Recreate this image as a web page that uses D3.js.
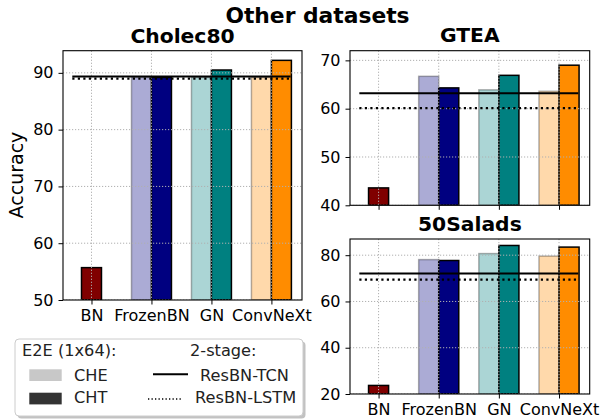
<!DOCTYPE html>
<html>
<head>
<meta charset="utf-8">
<script src="https://cdn.jsdelivr.net/npm/d3@7"></script>
<style>
  body { margin: 0; background: #fff; }
  svg { font-family: "DejaVu Sans", sans-serif; }
</style>
</head>
<body>
<div class="svg-container"></div>
<script>
// categories and colours
const categories = ["BN", "FrozenBN", "GN", "ConvNeXt"];
const colors = ["#800000", "#000080", "#008080", "#ff8c00"];

// Cholec80
const cholecCHE = [null, 89.2, 89.2, 89.2];
const cholecCHT = [55.7, 89.2, 90.5, 92.2];
const cholecTCN = 89.35;
const cholecLSTM = 89.0;

// GTEA
const gteaCHE = [null, 66.7, 63.9, 63.6];
const gteaCHT = [43.6, 64.3, 66.9, 69.0];
const gteaTCN = 63.2;
const gteaLSTM = 60.1;

// 50Salads
const saladsCHE = [null, 78.1, 80.7, 79.6];
const saladsCHT = [23.7, 77.7, 84.2, 83.5];
const saladsTCN = 72.1;
const saladsLSTM = 69.4;

const cholecTicks = [50, 60, 70, 80, 90];
const gteaTicks = [40, 50, 60, 70];
const saladsTicks = [20, 40, 60, 80];

const width = 601, height = 419;
const svg = d3.select(".svg-container").append("svg")
    .attr("width", width).attr("height", height);

const panels = [
  {title: "Cholec80", che: cholecCHE, cht: cholecCHT, tcn: cholecTCN, lstm: cholecLSTM,
   ticks: cholecTicks, ydom: [50, 93.9], x0: 63, x1: 302, y0: 50.7, y1: 300, xlabels: true, titleY: 42.7},
  {title: "GTEA", che: gteaCHE, cht: gteaCHT, tcn: gteaTCN, lstm: gteaLSTM,
   ticks: gteaTicks, ydom: [40, 72], x0: 350, x1: 589.7, y0: 50.7, y1: 205.3, xlabels: false, titleY: 41.7},
  {title: "50Salads", che: saladsCHE, cht: saladsCHT, tcn: saladsTCN, lstm: saladsLSTM,
   ticks: saladsTicks, ydom: [20, 87], x0: 350, x1: 589.7, y0: 239, y1: 394, xlabels: true, titleY: 230.7}
];

const w = 1 / 3;

panels.forEach(p => {
  const x = d3.scaleLinear().domain([-0.475, 3.51]).range([p.x0, p.x1]);
  const y = d3.scaleLinear().domain(p.ydom).range([p.y1, p.y0]);
  const g = svg.append("g");

  const clipId = "clip" + p.title;
  svg.append("clipPath").attr("id", clipId).append("rect")
      .attr("x", p.x0).attr("y", p.y0).attr("width", p.x1 - p.x0).attr("height", p.y1 - p.y0);
  const plot = g.append("g").attr("clip-path", "url(#" + clipId + ")");

  // CHE bars (light)
  plot.selectAll(".che").data(p.che.map((v, i) => ({v, i})).filter(d => d.v != null))
    .enter().append("rect")
      .attr("x", d => x(d.i - w)).attr("width", d => x(w) - x(0))
      .attr("y", d => y(d.v)).attr("height", d => y(p.ydom[0]) - y(d.v))
      .attr("fill", d => colors[d.i]).attr("fill-opacity", 0.33)
      .attr("stroke", "#000").attr("stroke-opacity", 0.3).attr("stroke-width", 1.5);

  // CHT bars (dark)
  plot.selectAll(".cht").data(p.cht.map((v, i) => ({v, i, solo: p.che[i] == null})))
    .enter().append("rect")
      .attr("x", d => d.solo ? x(d.i - w / 2) : x(d.i)).attr("width", d => x(w) - x(0))
      .attr("y", d => y(d.v)).attr("height", d => y(p.ydom[0]) - y(d.v))
      .attr("fill", d => colors[d.i])
      .attr("stroke", "#000").attr("stroke-width", 1.5);

  // grid over bars
  plot.selectAll(".gy").data(p.ticks).enter().append("line")
      .attr("x1", p.x0).attr("x2", p.x1).attr("y1", d => y(d)).attr("y2", d => y(d))
      .attr("stroke", "#b0b0b0").attr("stroke-width", 1).attr("stroke-dasharray", "1.2,1.8");
  plot.selectAll(".gx").data(categories).enter().append("line")
      .attr("x1", (d, i) => x(i)).attr("x2", (d, i) => x(i)).attr("y1", p.y0).attr("y2", p.y1)
      .attr("stroke", "#b0b0b0").attr("stroke-width", 1).attr("stroke-dasharray", "1.2,1.8");

  // 2-stage reference lines
  plot.append("line").attr("x1", x(-0.32)).attr("x2", x(3.32))
      .attr("y1", y(p.tcn)).attr("y2", y(p.tcn))
      .attr("stroke", "#000").attr("stroke-width", 2);
  plot.append("line").attr("x1", x(-0.32)).attr("x2", x(3.32))
      .attr("y1", y(p.lstm)).attr("y2", y(p.lstm))
      .attr("stroke", "#000").attr("stroke-width", 2.2).attr("stroke-dasharray", "2.2,3.3");

  // axes
  const ya = d3.axisLeft(y).tickValues(p.ticks).tickSize(4.5).tickPadding(5);
  const yg = g.append("g").attr("transform", "translate(" + p.x0 + ",0)").call(ya);
  const xa = d3.axisBottom(x).tickValues([0, 1, 2, 3]).tickSize(4.5).tickPadding(5.5)
      .tickFormat(i => p.xlabels ? categories[i] : "");
  const xg = g.append("g").attr("transform", "translate(0," + p.y1 + ")").call(xa);
  [yg, xg].forEach(a => {
    a.select(".domain").remove();
    a.selectAll("line").attr("stroke", "#000").attr("stroke-width", 1);
    a.selectAll("text").attr("font-size", 16).attr("fill", "#000")
      .attr("font-family", "DejaVu Sans, sans-serif");
  });

  // frame
  g.append("rect").attr("x", p.x0).attr("y", p.y0)
      .attr("width", p.x1 - p.x0).attr("height", p.y1 - p.y0)
      .attr("fill", "none").attr("stroke", "#000").attr("stroke-width", 1.1);

  g.append("text").attr("x", (p.x0 + p.x1) / 2).attr("y", p.titleY)
      .attr("text-anchor", "middle").attr("font-size", 20.3).attr("font-weight", "bold")
      .text(p.title);
});

svg.append("text").attr("x", 317.5).attr("y", 22.7).attr("text-anchor", "middle")
    .attr("font-size", 21.8).attr("font-weight", "bold").text("Other datasets");

svg.append("text").attr("transform", "translate(23,175) rotate(-90)")
    .attr("text-anchor", "middle").attr("font-size", 19).text("Accuracy");

// legend
const lg = svg.append("g");
lg.append("rect").attr("x", 17.5).attr("y", 341.5).attr("width", 288).attr("height", 77)
    .attr("rx", 4).attr("fill", "#999").attr("opacity", 0.6);
lg.append("rect").attr("x", 15).attr("y", 339).attr("width", 288).attr("height", 77)
    .attr("rx", 4).attr("fill", "#fff").attr("stroke", "#ccc").attr("stroke-width", 1);

const legendFont = 16.2;
lg.append("text").attr("x", 22).attr("y", 356).attr("font-size", legendFont).attr("fill", "#222").text("E2E (1x64):");
lg.append("text").attr("x", 190).attr("y", 356).attr("font-size", legendFont).attr("fill", "#222").text("2-stage:");
lg.append("rect").attr("x", 29.3).attr("y", 369.3).attr("width", 32.4).attr("height", 11.7).attr("fill", "#c8c8c8");
lg.append("rect").attr("x", 29.3).attr("y", 392.7).attr("width", 32.4).attr("height", 11.7).attr("fill", "#333");
lg.append("text").attr("x", 74).attr("y", 381).attr("font-size", legendFont).attr("fill", "#222").text("CHE");
lg.append("text").attr("x", 74).attr("y", 403.3).attr("font-size", legendFont).attr("fill", "#222").text("CHT");
lg.append("line").attr("x1", 153).attr("x2", 188).attr("y1", 374.3).attr("y2", 374.3)
    .attr("stroke", "#000").attr("stroke-width", 2);
lg.append("line").attr("x1", 148).attr("x2", 181).attr("y1", 399).attr("y2", 399)
    .attr("stroke", "#000").attr("stroke-width", 1.3).attr("stroke-dasharray", "1.3,2.2");
lg.append("text").attr("x", 200).attr("y", 381).attr("font-size", legendFont).attr("fill", "#222").text("ResBN-TCN");
lg.append("text").attr("x", 195).attr("y", 403.3).attr("font-size", legendFont).attr("fill", "#222").text("ResBN-LSTM");
</script>
</body>
</html>
